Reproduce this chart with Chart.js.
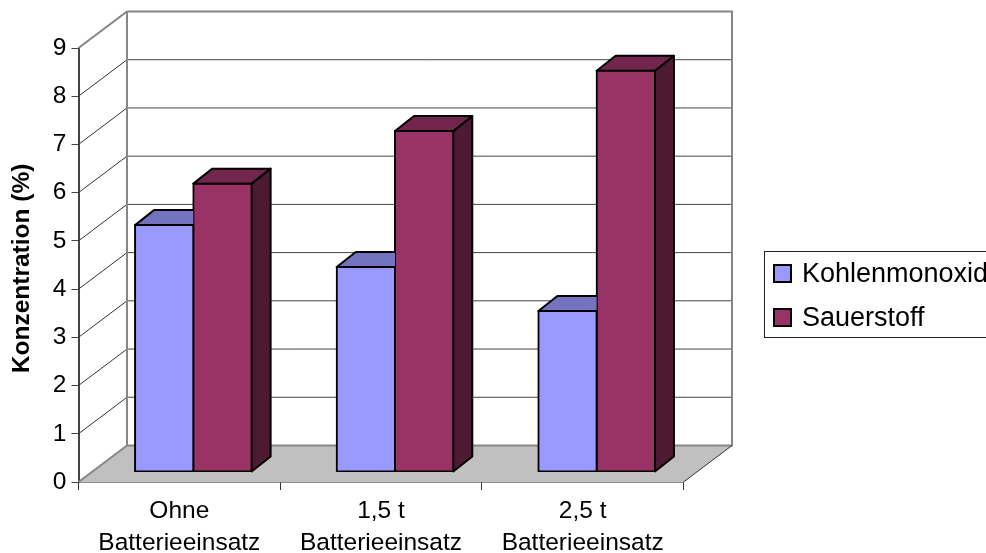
<!DOCTYPE html>
<html>
<head>
<meta charset="utf-8">
<title>Konzentration</title>
<script src="https://cdn.jsdelivr.net/npm/chart.js@4"></script>
<style>
body { margin: 0; background: #fff; overflow: hidden; }
canvas { display: block; }
</style>
</head>
<body>
<canvas id="chart" width="986" height="553"></canvas>
<script>
// Daten
const categories = [['Ohne', 'Batterieeinsatz'], ['1,5 t', 'Batterieeinsatz'], ['2,5 t', 'Batterieeinsatz']];
const kohlenmonoxid = [5.12, 4.25, 3.34];
const sauerstoff = [5.98, 7.07, 8.32];

const FONT = '"Liberation Sans", Arial, sans-serif';
// 3D look: wall depth, bar shift into the room, bar depth
const WALL = { x: 48.5, y: -36.5 };
const SHIFT = { x: 14, y: -10 };
const DEPTH = { x: 19, y: -15 };

const roomPlugin = {
    id: 'room',
    beforeDatasetsDraw(chart) {
        const { ctx, chartArea: a, scales } = chart;
        const y = scales.y;
        ctx.save();
        // floor
        ctx.fillStyle = '#c0c0c0';
        ctx.beginPath();
        ctx.moveTo(a.left, a.bottom);
        ctx.lineTo(a.left + WALL.x, a.bottom + WALL.y);
        ctx.lineTo(a.right + WALL.x, a.bottom + WALL.y);
        ctx.lineTo(a.right, a.bottom);
        ctx.closePath();
        ctx.fill();
        // grid on the side wall and back wall
        ctx.lineWidth = 1;
        for (let v = 1; v < 9; v++) {
            const py = y.getPixelForValue(v);
            ctx.strokeStyle = '#333';
            ctx.beginPath();
            ctx.moveTo(a.left, py);
            ctx.lineTo(a.left + WALL.x, py + WALL.y);
            ctx.stroke();
            ctx.strokeStyle = '#444';
            ctx.beginPath();
            ctx.moveTo(a.left + WALL.x, py + WALL.y);
            ctx.lineTo(a.right + WALL.x, py + WALL.y);
            ctx.stroke();
        }
        // wall outline
        ctx.strokeStyle = '#868686';
        ctx.lineWidth = 2;
        ctx.beginPath();
        ctx.moveTo(a.left, a.top);
        ctx.lineTo(a.left + WALL.x, a.top + WALL.y);
        ctx.lineTo(a.right + WALL.x, a.top + WALL.y);
        ctx.lineTo(a.right + WALL.x, a.bottom + WALL.y);
        ctx.lineTo(a.left + WALL.x, a.bottom + WALL.y);
        ctx.lineTo(a.left + WALL.x, a.top + WALL.y);
        ctx.moveTo(a.left, a.bottom);
        ctx.lineTo(a.left + WALL.x, a.bottom + WALL.y);
        ctx.stroke();
        // floor front right edge
        ctx.strokeStyle = '#333';
        ctx.lineWidth = 1;
        ctx.beginPath();
        ctx.moveTo(a.right, a.bottom);
        ctx.lineTo(a.right + WALL.x, a.bottom + WALL.y);
        ctx.stroke();
        ctx.restore();
    },
    beforeDatasetDraw(chart, args) {
        const { ctx } = chart;
        const ds = chart.data.datasets[args.index];
        // the last dataset is painted first, so the front series only shows what its neighbour leaves free
        const hasNeighbour = args.index < chart.data.datasets.length - 1;
        ctx.save();
        ctx.translate(SHIFT.x, SHIFT.y);
        args.meta.data.forEach(bar => {
            const p = bar.getProps(['x', 'y', 'base', 'width'], true);
            const l = p.x - p.width / 2, r = p.x + p.width / 2;
            ctx.save();
            ctx.lineWidth = 2;
            ctx.lineJoin = 'round';
            ctx.strokeStyle = '#000';
            if (hasNeighbour) {
                ctx.beginPath();
                ctx.rect(l - 2, 0, r - l + 2, chart.height);
                ctx.clip();
            } else {
                ctx.fillStyle = ds.sideColor;
                ctx.beginPath();
                ctx.moveTo(r, p.y);
                ctx.lineTo(r + DEPTH.x, p.y + DEPTH.y);
                ctx.lineTo(r + DEPTH.x, p.base + DEPTH.y);
                ctx.lineTo(r, p.base);
                ctx.closePath();
                ctx.fill();
                ctx.stroke();
            }
            ctx.fillStyle = ds.topColor;
            ctx.beginPath();
            ctx.moveTo(l, p.y);
            ctx.lineTo(l + DEPTH.x, p.y + DEPTH.y);
            ctx.lineTo(r + DEPTH.x, p.y + DEPTH.y);
            ctx.lineTo(r, p.y);
            ctx.closePath();
            ctx.fill();
            ctx.stroke();
            ctx.restore();
        });
    },
    afterDatasetDraw(chart) {
        chart.ctx.restore();
    },
    afterDraw(chart) {
        const { ctx } = chart;
        ctx.save();
        // legend
        ctx.fillStyle = '#fff';
        ctx.fillRect(764.5, 251.5, 240, 86);
        ctx.strokeStyle = '#222';
        ctx.lineWidth = 1;
        ctx.strokeRect(764.5, 251.5, 240, 86);
        ctx.font = '27px ' + FONT;
        ctx.textBaseline = 'middle';
        chart.data.datasets.forEach((ds, i) => {
            const top = 265 + i * 44;
            ctx.fillStyle = ds.backgroundColor;
            ctx.strokeStyle = '#000';
            ctx.lineWidth = 2;
            ctx.fillRect(774, top, 17, 17);
            ctx.strokeRect(774, top, 17, 17);
            ctx.fillStyle = '#000';
            ctx.fillText(ds.label, 802, top + 10);
        });
        ctx.restore();
    }
};

new Chart(document.getElementById('chart'), {
    type: 'bar',
    plugins: [roomPlugin],
    data: {
        labels: categories,
        datasets: [
            {
                label: 'Kohlenmonoxid',
                data: kohlenmonoxid,
                backgroundColor: '#9999ff',
                topColor: '#7373bf'
            },
            {
                label: 'Sauerstoff',
                data: sauerstoff,
                backgroundColor: '#993366',
                topColor: '#73264d',
                sideColor: '#4d1933'
            }
        ]
    },
    options: {
        responsive: false,
        animation: false,
        layout: { padding: { top: 48, right: 302.5, bottom: 0, left: 0 } },
        datasets: {
            bar: {
                barPercentage: 1,
                categoryPercentage: 0.578,
                borderColor: '#000',
                borderWidth: 2,
                borderSkipped: false,
                inflateAmount: 1
            }
        },
        plugins: {
            legend: { display: false },
            tooltip: { enabled: false }
        },
        scales: {
            x: {
                afterFit(scale) { scale.height = 71; },
                grid: { drawOnChartArea: false, drawTicks: true, tickLength: 8, color: '#333' },
                border: { color: '#222', width: 1.5 },
                ticks: {
                    color: '#000',
                    maxRotation: 0,
                    padding: 6,
                    font: { family: FONT, size: 24.5, lineHeight: 1.28 }
                }
            },
            y: {
                min: 0,
                max: 9,
                afterFit(scale) { scale.width = 78.5; },
                grid: { drawOnChartArea: false, drawTicks: true, tickLength: 7, color: '#444' },
                border: { color: '#444', width: 2 },
                ticks: {
                    stepSize: 1,
                    color: '#000',
                    padding: 5,
                    font: { family: FONT, size: 24.5 }
                },
                title: {
                    display: true,
                    text: 'Konzentration (%) ',
                    color: '#000',
                    padding: { top: 8, bottom: 0 },
                    font: { family: FONT, size: 24.5, weight: 'bold' }
                }
            }
        }
    }
});
</script>
</body>
</html>
